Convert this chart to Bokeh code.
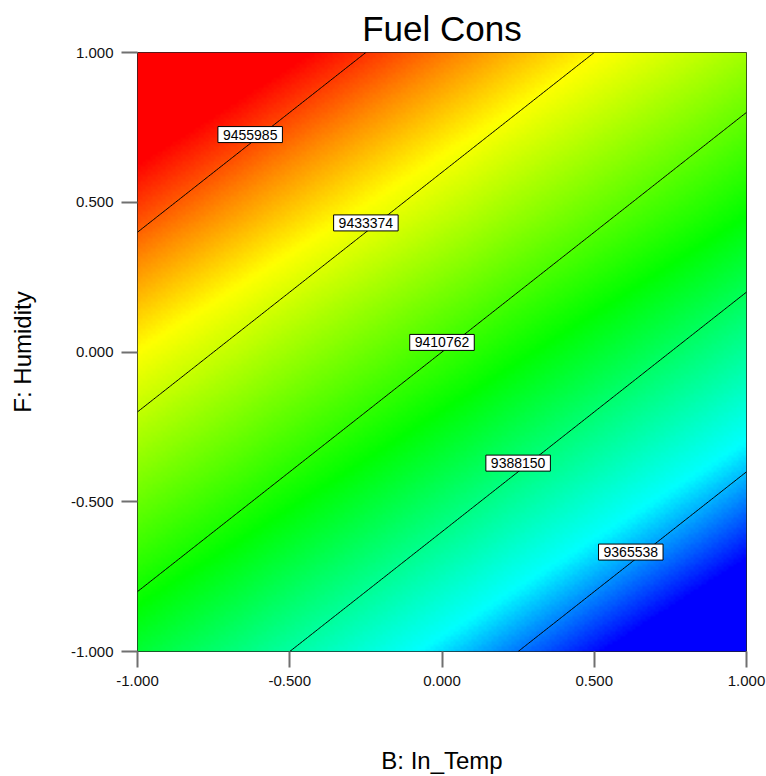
import numpy as np
from bokeh.plotting import figure
from bokeh.models import (Range1d, LinearColorMapper, FixedTicker, PrintfTickFormatter, Label)
from bokeh.embed import file_html
from bokeh.resources import INLINE

# ---- data ----
title_text = "Fuel Cons"
x_label = "B: In_Temp"
y_label = "F: Humidity"
tick_values = [-1.0, -0.5, 0.0, 0.5, 1.0]

# fitted linear surface
intercept = 9410762.0
coef_B = -30149.0
coef_F = 37686.0

contour_levels = [9365538, 9388150, 9410762, 9433374, 9455985]
label_B = [0.62, 0.25, 0.0, -0.25, -0.63]
label_F = [-0.668, -0.371, 0.032, 0.431, 0.726]

# colour shading field as it appears in the picture (iso-colour slope ~0.65)
shade_coef_B = -0.65
shade_coef_F = 1.0
# colour ramp stops (fraction of shade range, rgb)
ramp_stops = [(0.00, (0, 0, 255)), (0.09, (0, 0, 255)), (0.21, (0, 255, 255)),
              (0.44, (0, 255, 0)), (0.70, (255, 255, 0)), (0.79, (255, 140, 0)),
              (0.89, (255, 0, 0)), (1.00, (255, 0, 0))]

FONT = "Liberation Sans"

# ---- grids ----
n = 241
b_grid = np.linspace(-1, 1, n)
f_grid = np.linspace(-1, 1, n)
BB, FF = np.meshgrid(b_grid, f_grid)
Z = intercept + coef_B * BB + coef_F * FF
S = shade_coef_B * BB + shade_coef_F * FF

fr = np.array([s[0] for s in ramp_stops])
cols = np.array([s[1] for s in ramp_stops], dtype=float)
palette = []
for t in np.linspace(0, 1, 256):
    r = np.interp(t, fr, cols[:, 0]); g = np.interp(t, fr, cols[:, 1]); b = np.interp(t, fr, cols[:, 2])
    palette.append("#%02x%02x%02x" % (int(round(r)), int(round(g)), int(round(b))))
mapper = LinearColorMapper(palette=palette, low=float(S.min()), high=float(S.max()))

p = figure(width=766, height=776, output_backend="svg", toolbar_location=None,
           x_range=Range1d(-1, 1), y_range=Range1d(-1, 1),
           min_border_left=137, min_border_right=20, min_border_top=52, min_border_bottom=125,
           title=title_text)
p.title.text_font = FONT
p.title.text_font_size = "35px"
p.title.text_font_style = "normal"
p.title.align = "center"
p.title.text_color = "black"

p.image(image=[S], x=-1, y=-1, dw=2, dh=2, color_mapper=mapper)
p.contour(x=b_grid, y=f_grid, z=Z, levels=contour_levels, line_color="black", line_width=1)

for lev, bx, fy in zip(contour_levels, label_B, label_F):
    p.add_layout(Label(x=bx, y=fy, text=str(lev), text_align="center", text_baseline="middle",
                       text_font=FONT, text_font_size="14px", text_color="black",
                       background_fill_color="white", border_line_color="black", border_line_width=1,
                       padding=dict(left=5, right=5, top=3, bottom=3)))

p.grid.visible = False
p.outline_line_color = "#222222"
p.outline_line_width = 1
for ax in (p.xaxis, p.yaxis):
    ax.ticker = FixedTicker(ticks=tick_values)
    ax.formatter = PrintfTickFormatter(format="%.3f")
    ax.axis_line_color = None
    ax.major_tick_line_color = "#707070"
    ax.major_tick_line_width = 2
    ax.major_tick_in = 0
    ax.major_tick_out = 16
    ax.minor_tick_line_color = None
    ax.major_label_text_font = FONT
    ax.major_label_text_font_size = "15px"
    ax.major_label_text_color = "#111111"
    ax.major_label_standoff = 8
    ax.axis_label_text_font = FONT
    ax.axis_label_text_font_size = "24px"
    ax.axis_label_text_font_style = "normal"
    ax.axis_label_text_color = "black"
p.xaxis.axis_label = x_label
p.yaxis.axis_label = y_label
p.xaxis.axis_label_standoff = 58
p.yaxis.axis_label_standoff = 32

open("out.html", "w").write(file_html(p, INLINE))
